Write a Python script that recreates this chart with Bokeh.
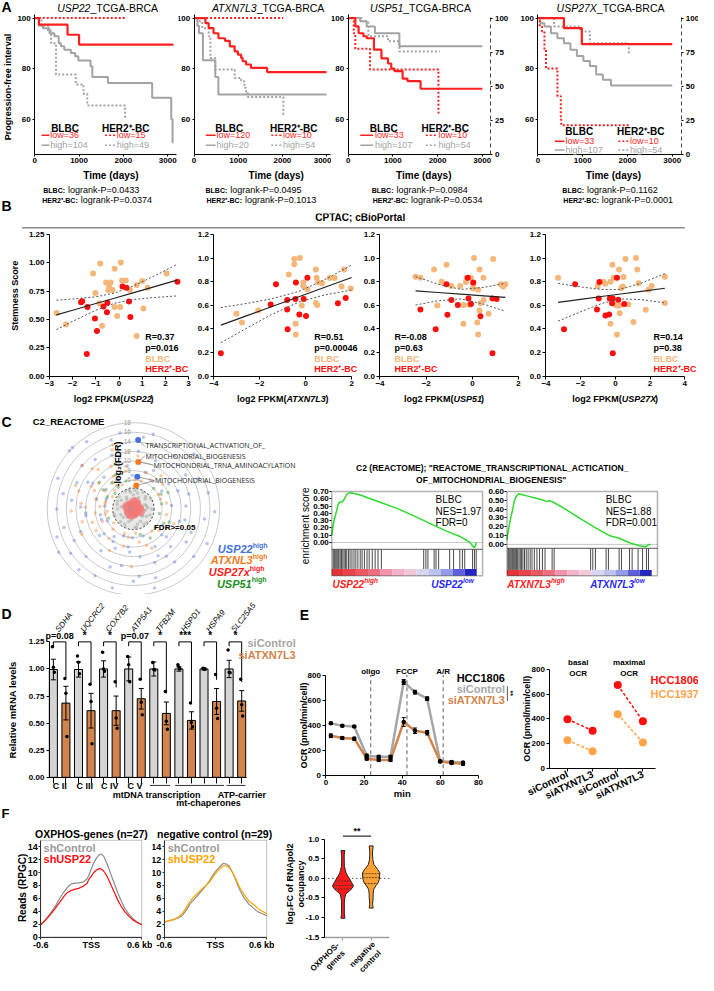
import math
import numpy as np
from bokeh.plotting import figure
from bokeh.models import (Range1d, LinearAxis, Label, Arrow, FixedTicker, BoxAnnotation,
                          NumeralTickFormatter, Whisker, TeeHead, ColumnDataSource)
from bokeh.layouts import row, column
from bokeh.embed import file_html
from bokeh.resources import INLINE
from bokeh.core.properties import value

# ============================ DATA ============================
# ---- A: Kaplan-Meier, TCGA-BRCA (time in days, % progression-free) ----
km_genes = ["USP22", "ATXN7L3", "USP51", "USP27X"]
km_blbc_low_n = [36, 120, 33, 33]
km_blbc_high_n = [104, 20, 107, 107]
km_her2_low_n = [15, 10, 10, 10]
km_her2_high_n = [49, 54, 54, 54]
km_p_blbc = ["0.0433", "0.0495", "0.0984", "0.1162"]
km_p_her2 = ["0.0374", "0.1013", "0.0534", "0.0001"]

usp22_blbc_low_t = [0, 95, 740, 1000, 3130]
usp22_blbc_low_s = [100, 97.4, 93.4, 89.5, 89.5]
usp22_blbc_high_t = [0, 96, 185, 333, 444, 541, 593, 667, 815, 911, 985, 1260, 1300, 1650, 2650, 3080, 3110, 3130]
usp22_blbc_high_s = [100, 97, 96, 94, 92.8, 90, 88.8, 87.5, 86.2, 84.9, 83.2, 80.9, 76.7, 74.3, 68.4, 59.9, 50.7, 50.7]
usp22_her2_low_t = [0, 2050]
usp22_her2_low_s = [100, 100]
usp22_her2_high_t = [0, 150, 300, 370, 480, 925, 1100, 1185, 2040, 2050]
usp22_her2_high_s = [100, 97, 95, 90, 77.6, 73.7, 70, 65.4, 60, 60]

atxn_blbc_low_t = [0, 257, 330, 440, 551, 700, 809, 919, 993, 1066, 1100, 1176, 1287, 1654, 3000]
atxn_blbc_low_s = [100, 98, 96, 94, 92, 91, 88.8, 86.8, 85.5, 84.2, 82.9, 81.6, 80.3, 78.6, 78.6]
atxn_blbc_high_t = [0, 74, 110, 200, 480, 550, 3000]
atxn_blbc_high_s = [100, 97, 94, 83.3, 76.7, 69.7, 69.7]
atxn_her2_low_t = [0, 2020]
atxn_her2_low_s = [100, 100]
atxn_her2_high_t = [0, 110, 184, 330, 368, 478, 919, 1066, 1140, 1176, 1213, 2022, 2030]
atxn_her2_high_s = [100, 98.7, 96, 92.8, 84.2, 79.6, 76.3, 75, 72.4, 70.4, 68.7, 61.8, 61.8]

usp51_blbc_low_t = [0, 161, 234, 343, 416, 577, 745, 891, 964, 1036, 1219, 1328, 1620, 3000]
usp51_blbc_low_s = [100, 96.7, 94, 92.8, 92, 87.5, 84, 82, 80, 79, 76, 75, 72, 72]
usp51_blbc_high_t = [0, 270, 416, 599, 1146, 3000]
usp51_blbc_high_s = [100, 98.7, 96.7, 94, 88.8, 88.8]
usp51_her2_low_t = [0, 125, 160, 490, 2020, 2040]
usp51_her2_low_s = [100, 94, 87.8, 79.6, 62.5, 62.5]
usp51_her2_high_t = [0, 307, 453, 891, 1146, 2050]
usp51_her2_high_s = [100, 98.7, 92.8, 90.8, 86.8, 86.8]

usp27x_blbc_low_t = [0, 580, 980, 3000]
usp27x_blbc_low_s = [100, 96, 89.7, 89.7]
usp27x_blbc_high_t = [0, 50, 145, 290, 435, 580, 725, 870, 1015, 1160, 1300, 1450, 1630, 3000]
usp27x_blbc_high_s = [100, 98, 96.7, 94, 92, 90, 87.5, 85, 83, 81, 77.6, 75.6, 73.3, 73.3]
usp27x_her2_low_t = [0, 40, 90, 145, 180, 435, 510, 520, 2050]
usp27x_her2_low_s = [100, 96.7, 94.7, 87.5, 80, 69, 61, 57.5, 57.5]
usp27x_her2_high_t = [0, 360, 940, 1160, 2030, 2040]
usp27x_her2_high_s = [100, 96.7, 94.7, 90, 86, 86]

# ---- B: CPTAC stemness vs log2 FPKM ----
sc_gene = ["USP22", "ATXN7L3", "USP51", "USP27X"]
sc_R = ["R=0.37", "R=0.51", "R=-0.08", "R=0.14"]
sc_P = ["p=0.016", "p=0.00046", "p=0.63", "p=0.38"]

s1_blbc_x = [-2.69, -2.29, -1.12, -0.81, -1.02, -0.85, -0.73, -0.56, -0.36, -0.43, -0.46, -0.28, -0.19, -0.19, -0.08, 0.08, 0.13, 0.29, 0.05, 0.47, 0.76, 0.76, 1.00, 1.05, 1.24, 2.05]
s1_blbc_y = [0.557, 0.455, 0.904, 0.994, 0.733, 0.643, 0.443, 0.826, 0.826, 0.791, 0.759, 0.759, 0.948, 0.609, 0.530, 1.003, 0.843, 0.843, 0.609, 0.759, 0.803, 0.354, 0.838, 0.597, 0.780, 0.904]
s1_her2_x = [-1.64, -1.59, -1.36, -1.04, -0.95, -0.67, -0.52, -0.50, -1.39, 0.15, 0.32, 0.43, 0.49, 2.52]
s1_her2_y = [0.652, 0.661, 0.609, 0.507, 0.397, 0.614, 0.562, 0.646, 0.194, 0.791, 0.780, 0.658, 0.522, 0.832]
s1_fit_x = [-2.7, -2.0, -1.0, -0.2, 0.6, 1.5, 2.5]
s1_fit_y = [0.540, 0.581, 0.640, 0.687, 0.734, 0.787, 0.846]
s1_ci_hi = [0.670, 0.680, 0.699, 0.732, 0.793, 0.881, 0.985]
s1_ci_lo = [0.410, 0.483, 0.581, 0.642, 0.675, 0.693, 0.707]

s2_blbc_x = [-3.02, -2.78, -2.07, -0.74, -0.50, -0.50, -0.26, -0.11, -0.10, -0.17, -0.44, -0.44, 0.07, 0.44, 0.47, 0.54, 0.71, 0.44, 0.50, 1.04, 1.26, 1.67, 1.56, 1.96]
s2_blbc_y = [0.528, 0.453, 0.556, 0.861, 0.992, 0.947, 1.000, 0.764, 0.792, 0.597, 0.444, 0.353, 0.736, 0.903, 0.833, 0.792, 0.786, 0.619, 0.603, 0.831, 0.831, 0.903, 0.758, 0.742]
s2_her2_x = [-3.70, -1.53, -1.30, -0.81, -0.81, -0.79, -0.43, -0.45, -0.28, -0.09, 0.01, 0.07, 1.40, 1.74]
s2_her2_y = [0.194, 0.606, 0.778, 0.644, 0.564, 0.397, 0.792, 0.653, 0.522, 0.653, 0.508, 0.833, 0.617, 0.661]
s2_fit_x = [-3.7, -2.5, -1.5, -0.3, 0.8, 2.0]
s2_fit_y = [0.431, 0.516, 0.587, 0.672, 0.750, 0.835]
s2_ci_hi = [0.580, 0.618, 0.654, 0.717, 0.814, 0.941]
s2_ci_lo = [0.282, 0.414, 0.520, 0.627, 0.686, 0.729]

s3_blbc_x = [-2.46, -2.25, -1.66, -1.12, -1.52, -1.33, -0.91, -0.53, -0.28, -0.25, -0.07, 0.07, 0.03, 0.03, 0.31, 0.25, 0.35, 0.31, -0.39, -0.14, 0.21, 0.25, 0.48, 0.49, 0.70, 0.90, 1.24, 1.33, 1.43, -0.39]
s3_blbc_y = [0.842, 0.833, 0.903, 0.944, 0.597, 0.800, 0.764, 0.764, 0.797, 0.828, 0.833, 1.000, 0.778, 0.742, 0.903, 0.731, 0.617, 0.556, 0.444, 0.603, 0.453, 0.353, 0.833, 0.644, 0.528, 0.992, 0.778, 0.758, 0.778, 0.603]
s3_her2_x = [-2.25, -1.59, -1.12, -1.08, -0.91, -0.63, -0.20, -0.17, -0.06, 0.04, 0.35, 0.87, 1.05, 0.87]
s3_her2_y = [0.564, 0.397, 0.778, 0.519, 0.644, 0.603, 0.833, 0.658, 0.611, 0.792, 0.506, 0.658, 0.653, 0.194]
s3_fit_x = [-2.46, -1.5, -0.5, 0.5, 1.43]
s3_fit_y = [0.722, 0.708, 0.694, 0.680, 0.667]
s3_ci_hi = [0.842, 0.779, 0.734, 0.751, 0.786]
s3_ci_lo = [0.602, 0.637, 0.654, 0.609, 0.548]

s4_blbc_x = [-3.30, -1.02, -0.70, -0.58, -0.28, -0.17, -0.09, 0.0, 0.11, 0.21, 0.25, 0.34, 0.43, 0.47, 0.58, 0.25, -0.28, 0.09, 0.75, 1.04, 1.19, 1.26, 1.34, 1.91, 2.09, 1.75, 2.85, 2.85]
s4_blbc_y = [0.833, 0.764, 0.800, 0.783, 0.800, 0.944, 0.833, 0.603, 0.597, 0.903, 0.597, 0.744, 0.758, 0.839, 0.992, 0.533, 0.444, 0.353, 0.606, 0.458, 1.000, 0.903, 0.786, 0.731, 0.764, 0.561, 0.842, 0.619]
s4_her2_x = [-2.96, -2.32, -0.92, -0.96, -1.06, -0.57, -0.36, -0.32, -0.15, -0.19, 0.09, 0.17, 0.51, -0.15]
s4_her2_y = [0.397, 0.778, 0.797, 0.658, 0.564, 0.514, 0.522, 0.658, 0.658, 0.617, 0.833, 0.647, 0.611, 0.194]
s4_fit_x = [-3.3, -2.0, -0.8, 0.2, 1.5, 2.85]
s4_fit_y = [0.625, 0.650, 0.674, 0.693, 0.718, 0.744]
s4_ci_hi = [0.785, 0.755, 0.734, 0.733, 0.788, 0.868]
s4_ci_lo = [0.465, 0.545, 0.614, 0.653, 0.648, 0.620]

# ---- C: radial GSEA overview (angle in degrees, radius = -log2 FDR) ----
rad_rings = [6, 8, 10, 12, 14, 16, 18]
rad_ticks = [0, 4, 6, 8, 10, 12, 14, 16, 18]
fdr_cut = 4.32
blue_theta = [100, 112, 125, 133, 140, 150, 158, 165, 172, 180, 188, 195, 203, 210, 218, 225, 232, 240, 248, 255,
              262, 270, 278, 285, 292, 300, 308, 315, 322, 330, 338, 345, 352, 5, 15, 25, 35, 45, 55, 65,
              75, 85, 145, 160, 175, 190, 205, 220, 235, 250, 265, 120, 200, 290, 320,
              98, 108, 118, 128, 138, 148, 168, 178, 198, 208, 228, 238, 258, 268, 288, 298, 318, 328, 348, 358,
              12, 22, 32, 42, 52, 62, 72, 82, 92, 105, 135, 155, 185, 215, 245, 275, 305, 335, 3, 33]
blue_r = [16, 12, 17, 9, 14, 11, 17, 8, 13, 16, 10, 15, 12, 18, 9, 14, 11, 16, 13, 17,
          8, 15, 10, 17, 12, 9, 14, 11, 16, 7, 13, 10, 15, 8, 12, 15, 9, 13, 7, 11,
          16, 12, 7, 6, 6, 7, 6, 8, 7, 6, 9, 7, 17, 6, 9,
          9, 15, 7, 13, 18, 10, 15, 11, 7, 14, 17, 8, 12, 6, 15, 11, 8, 13, 11, 17,
          16, 10, 7, 17, 14, 9, 8, 15, 7, 11, 18, 13, 10, 16, 9, 14, 12, 17, 11, 13]
orange_theta = [95, 102, 110, 118, 125, 132, 140, 148, 155, 162, 170, 178, 186, 194, 202, 210, 225, 240, 255, 268,
                280, 295, 310, 330, 350, 20, 40, 60, 75, 85, 115, 135, 150, 165, 185, 215, 250, 275,
                100, 108, 122, 136, 144, 158, 166, 174, 182, 190, 198, 206, 230, 260, 290, 320, 340, 10, 30, 50,
                70, 88, 128, 152, 176]
orange_r = [12, 8, 13, 10, 6, 11, 14, 7, 9, 12, 6, 10, 8, 11, 7, 9, 6, 10, 8, 12,
            7, 9, 6, 8, 7, 6, 8, 7, 6, 11, 5.5, 5.5, 5, 6, 5.5, 5, 5.5, 5,
            9, 14, 8, 12, 9, 13, 8, 11, 13, 6, 9, 12, 8, 6, 8, 7, 9, 7, 6, 9,
            8, 6, 7, 10, 7]
green_theta = [105, 118, 130, 142, 155, 125, 320, 335, 350, 10, 25, 285, 300, 45, 140, 200, 112, 148, 28, 340]
green_r = [6, 8, 7, 9, 6, 5.5, 6, 7, 5.5, 6, 8, 5.5, 7, 6, 5, 5.5, 10, 7.5, 6.5, 8]
grey_theta = [0, 20, 40, 60, 80, 100, 120, 140, 160, 180, 200, 220, 240, 260, 280, 300, 320, 340, 10, 50,
              90, 130, 170, 210, 250, 290, 330, 30, 75, 115, 155, 195, 235, 275, 315, 355,
              5, 45, 85, 125, 165, 205, 245, 285, 325, 65, 145, 225, 305, 15]
grey_r = [3.8, 2.5, 3.2, 4.0, 2.2, 3.5, 2.8, 3.9, 2.0, 3.3, 4.1, 2.7, 3.6, 2.3, 3.9, 3.0, 2.4, 3.7, 1.8, 1.9,
          2.9, 1.7, 2.6, 1.9, 2.8, 1.6, 3.1, 4.2, 3.4, 4.0, 3.7, 4.2, 2.1, 3.8, 4.0, 2.6,
          3.0, 3.6, 3.9, 2.4, 3.5, 2.9, 4.1, 3.3, 2.2, 2.6, 3.1, 3.8, 3.9, 2.8]
red_theta = [0, 45, 90, 135, 180, 225, 270, 315, 20, 110, 200, 290, 70, 160, 250, 340]
red_r = [1.2, 1.0, 1.3, 0.9, 1.1, 1.2, 1.0, 0.8, 0.5, 0.6, 0.4, 0.7, 1.4, 1.4, 1.3, 1.5]
hl_theta = [86, 84, 83, 83]
hl_r = [14.3, 9.8, 6.7, 4.9]
hl_set = ["USP22", "ATXNL3", "USP22", "ATXNL3"]
gs_names = ["TRANSCRIPTIONAL_ACTIVATION_OF_", "MITOCHONDRIAL_BIOGENESIS",
            "MITOCHONDRIAL_TRNA_AMINOACYLATION", "MITOCHONDRIAL_BIOGENESIS"]
rad_legend = ["USP22", "ATXNL3", "USP27x", "USP51"]

# ---- C: GSEA running enrichment ----
g1_x = [0.0, 0.004, 0.016, 0.031, 0.045, 0.054, 0.072, 0.088, 0.106, 0.128, 0.162, 0.207, 0.252, 0.342,
        0.454, 0.566, 0.679, 0.791, 0.881, 0.948, 0.982, 0.993, 0.998]
g1_es = [0.10, 0.168, 0.305, 0.418, 0.532, 0.555, 0.555, 0.600, 0.668, 0.682, 0.668, 0.645, 0.609, 0.545,
         0.464, 0.364, 0.259, 0.155, 0.086, 0.009, -0.073, -0.036, 0.0]
g1_hits = [0.009, 0.016, 0.022, 0.029, 0.036, 0.043, 0.049, 0.058, 0.067, 0.076, 0.085, 0.094, 0.103, 0.115,
           0.126, 0.139, 0.153, 0.166, 0.180, 0.196, 0.209, 0.225, 0.243, 0.258, 0.279, 0.299, 0.319, 0.342,
           0.634, 0.649, 0.663, 0.706, 0.719, 0.737, 0.813, 0.840, 0.883, 0.901, 0.917, 0.971, 0.984, 0.996]
g2_x = [0.0, 0.004, 0.016, 0.027, 0.038, 0.049, 0.061, 0.079, 0.106, 0.151, 0.196, 0.240, 0.274, 0.297,
        0.330, 0.398, 0.488, 0.600, 0.712, 0.780, 0.847, 0.915, 0.960, 0.982, 0.993]
g2_es = [0.05, 0.105, 0.217, 0.311, 0.386, 0.480, 0.536, 0.574, 0.562, 0.544, 0.525, 0.506, 0.487, 0.495,
         0.469, 0.405, 0.311, 0.199, 0.097, 0.067, 0.019, -0.015, -0.026, 0.0, -0.007]
g2_hits = [0.007, 0.013, 0.020, 0.027, 0.034, 0.040, 0.047, 0.054, 0.061, 0.067, 0.074, 0.083, 0.092, 0.101,
           0.110, 0.121, 0.133, 0.146, 0.160, 0.173, 0.189, 0.207, 0.225, 0.245, 0.263, 0.312, 0.326, 0.578,
           0.593, 0.611, 0.685, 0.701, 0.775, 0.791, 0.847, 0.865, 0.906, 0.937, 0.964, 0.978]
gsea_rank_colors = ["#E5333A", "#E8434A", "#EB5860", "#EE7080", "#F294AA", "#F4B3C8",
                    "#F1C7DA", "#D9D4EF", "#BDC3EE", "#959BE8", "#5D60DC", "#2424C2"]
gsea_stats = [["BLBC", "NES=1.97", "FDR=0"], ["BLBC", "NES=1.88", "FDR=0.001"]]

# ---- D: qPCR ----
d_genes = ["SDHA", "UQCRC2", "COX7B2", "ATP5A1", "TFB2M", "HSPD1", "HSPA9", "SLC25A5"]
d_ctrl_mean = [0.995, 0.995, 1.0, 1.0, 1.0, 1.0, 1.0, 1.0]
d_ctrl_sem = [0.095, 0.07, 0.075, 0.11, 0.065, 0.02, 0.01, 0.08]
d_si_mean = [0.685, 0.615, 0.615, 0.725, 0.59, 0.525, 0.70, 0.705]
d_si_sem = [0.155, 0.16, 0.135, 0.095, 0.105, 0.08, 0.12, 0.095]
d_ctrl_reps = [[1.205, 1.017, 0.970], [1.120, 1.063, 0.955], [1.154, 1.000, 0.979], [1.114, 1.039, 0.883],
               [1.060, 0.994, 0.991], [1.039, 1.018, 1.003], [1.006, 1.000, 0.997], [1.175, 0.970, 0.964]]
d_si_reps = [[0.913, 0.777, 0.377], [0.858, 0.699, 0.310], [0.883, 0.548, 0.452], [0.904, 0.693, 0.578],
             [0.792, 0.518, 0.443], [0.687, 0.506, 0.467], [0.949, 0.638, 0.542], [0.904, 0.669, 0.566]]
d_sig = ["p=0.08", "*", "*", "p=0.07", "*", "***", "*", "*"]
d_groups = ["C II", "C III", "C IV", "C V"]

# ---- E: Seahorse OCR ----
e_time = [2.6, 8.6, 14.9, 21.4, 27.7, 33.9, 40.8, 46.7, 53.1, 59.9, 65.9, 71.9]
e_ctrl = [416, 395, 390, 157, 149, 149, 745, 664, 612, 112, 107, 102]
e_ctrl_err = [8, 8, 8, 12, 10, 10, 20, 15, 15, 8, 8, 8]
e_si = [316, 298, 293, 133, 123, 123, 426, 356, 340, 110, 99, 92]
e_si_err = [15, 12, 12, 10, 12, 10, 35, 22, 18, 8, 10, 12]
e_inj_t = [23.5, 42.5, 61.5]
e_inj = ["oligo", "FCCP", "A/R"]
er_cond = ["siControl", "siATXN7L3", "siControl", "siATXN7L3"]
er_hcc1806 = [397, 305, 673, 381]
er_hcc1937 = [228, 138, 437, 209]

# ---- F: RNApol2 ChIP profiles and violins ----
f1_x = [-0.6, -0.55, -0.49, -0.43, -0.38, -0.33, -0.3, -0.27, -0.24, -0.2, -0.15, -0.09, -0.05, -0.03, 0.0,
        0.03, 0.06, 0.09, 0.12, 0.15, 0.18, 0.21, 0.24, 0.28, 0.32, 0.36, 0.4, 0.45, 0.5, 0.55, 0.6]
f1_ctrl = [1.9, 2.6, 3.6, 4.7, 5.9, 6.9, 7.4, 7.9, 8.2, 8.35, 8.4, 8.56, 9.0, 9.5, 10.5,
           11.5, 12.2, 12.7, 12.85, 12.5, 11.6, 10.6, 9.5, 8.1, 6.7, 5.5, 4.4, 3.5, 2.8, 2.3, 1.9]
f1_sh = [1.9, 2.5, 3.4, 4.4, 5.3, 6.2, 6.7, 7.0, 7.2, 7.4, 7.55, 7.9, 8.3, 8.9, 9.4,
         10.0, 10.35, 10.6, 10.55, 10.2, 9.6, 8.8, 7.9, 6.8, 5.6, 4.7, 3.9, 3.2, 2.6, 2.2, 1.9]
f2_x = [-0.6, -0.55, -0.49, -0.43, -0.39, -0.34, -0.30, -0.24, -0.18, -0.12, -0.07, -0.03, 0.01, 0.05,
        0.09, 0.12, 0.16, 0.20, 0.24, 0.28, 0.33, 0.39, 0.45, 0.50, 0.55, 0.6]
f2_ctrl = [2.3, 2.5, 2.7, 3.0, 3.3, 4.2, 5.1, 6.0, 6.9, 7.8, 8.7, 9.6, 10.3, 10.9,
           11.4, 11.35, 11.0, 10.0, 8.8, 7.4, 6.2, 5.1, 4.4, 3.9, 3.6, 3.3]
f2_sh = [2.3, 2.5, 2.7, 3.1, 3.6, 4.6, 5.5, 6.4, 7.2, 7.9, 8.5, 9.3, 10.0, 10.6,
         11.0, 11.05, 10.8, 10.0, 9.0, 7.8, 6.7, 5.6, 5.0, 4.4, 4.0, 3.6]
ox_vy = [0.71, 0.6, 0.5, 0.4, 0.31, 0.2, 0.14, 0.06, -0.03, -0.11, -0.19, -0.25, -0.32, -0.40, -0.49, -0.6, -0.78, -0.9, -1.02]
ox_vw = [0.07, 0.045, 0.045, 0.05, 0.05, 0.09, 0.11, 0.17, 0.25, 0.31, 0.37, 0.33, 0.23, 0.10, 0.07, 0.05, 0.05, 0.05, 0.07]
nc_vy = [0.83, 0.65, 0.48, 0.35, 0.23, 0.14, 0.06, -0.03, -0.11, -0.19, -0.28, -0.4, -0.49, -0.66, -0.76]
nc_vw = [0.07, 0.045, 0.06, 0.10, 0.23, 0.31, 0.30, 0.29, 0.25, 0.17, 0.09, 0.07, 0.07, 0.05, 0.07]
ox_q = [-0.07, -0.18, -0.27]
nc_q = [0.12, 0.02, -0.13]

# ============================ STYLE / LAYOUT ============================
FONT = "Liberation Sans"
RED = "#FF1F1F"
KM_GREY = "#A3A3A3"
TAN = "#F5B779"
HRED = "#FF0D0D"
BLUE = "#4472DD"
ORANGE = "#F47B20"
GREEN = "#1E8E1E"
SI_OR = "#D2844C"
SI_GREY = "#A6A6A6"
HCC37 = "#FFA547"

SX = 698.0 / 714.0
SY = 975.0 / 991.0


def X(v):
    return int(round(v * SX))


def Y(v):
    return int(round(v * SY))


BOXES = {}


def mkfig(box, drect=None, xd=(0.0, 1.0), yd=(0.0, 1.0), axes=True):
    """Figure whose canvas is `box` (reference px); the data window xd x yd maps onto `drect`."""
    x0, y0, x1, y1 = box
    if drect is None:
        drect = box
    fx0, fy0, fx1, fy1 = drect
    xa, xb = xd
    ya, yb = yd
    kx = (xb - xa) / float(fx1 - fx0)
    ky = (yb - ya) / float(fy1 - fy0)
    xr = Range1d(xa - (fx0 - x0) * kx, xb + (x1 - fx1) * kx)
    yr = Range1d(ya - (y1 - fy1) * ky, yb + (fy0 - y0) * ky)
    extra = {} if axes else dict(x_axis_type=None, y_axis_type=None)
    p = figure(width=X(x1) - X(x0), height=Y(y1) - Y(y0), x_range=xr, y_range=yr,
               output_backend="svg", toolbar_location=None,
               min_border_left=0, min_border_right=0, min_border_top=0, min_border_bottom=0, **extra)
    p.outline_line_color = None
    p.background_fill_color = "white"
    p.border_fill_color = "white"
    for g in p.grid:
        g.visible = False
    if axes:
        p.xaxis.fixed_location = ya
        p.yaxis.fixed_location = xa
        p.xaxis.bounds = (xa, xb)
        p.yaxis.bounds = (ya, yb)
    BOXES[p.id] = box
    return p


def _style(bold, italic):
    if bold and italic:
        return "bold italic"
    if bold:
        return "bold"
    if italic:
        return "italic"
    return "normal"


def lab(p, text, rx, ry, size=9, color="black", bold=False, italic=False,
        align="left", baseline="middle", angle=0.0, font=FONT):
    x0, y0, x1, y1 = BOXES[p.id]
    p.add_layout(Label(x=rx * SX - X(x0), y=Y(y1) - ry * SY, x_units="screen", y_units="screen",
                       text=text, text_font=font, text_font_size=f"{size}px",
                       text_font_style=_style(bold, italic), text_color=color,
                       text_align=align, text_baseline=baseline, angle=angle))


def labd(p, text, x, y, size=9, color="black", bold=False, italic=False,
         align="center", baseline="middle", angle=0.0, font=FONT):
    p.add_layout(Label(x=x, y=y, text=text, text_font=font, text_font_size=f"{size}px",
                       text_font_style=_style(bold, italic), text_color=color,
                       text_align=align, text_baseline=baseline, angle=angle))


def seg(p, rx0, ry0, rx1, ry1, color="black", width=1.0, dash="solid"):
    x0, y0, x1, y1 = BOXES[p.id]
    p.add_layout(Arrow(x_start=rx0 * SX - X(x0), y_start=Y(y1) - ry0 * SY,
                       x_end=rx1 * SX - X(x0), y_end=Y(y1) - ry1 * SY,
                       start_units="screen", end_units="screen", start=None, end=None,
                       line_color=color, line_width=width, line_dash=dash))


def style_axes(p, size=8, bold=True, tick_out=3, standoff=1, line_color="black", label_color="black"):
    for ax in p.axis:
        ax.major_label_text_font = FONT
        ax.major_label_text_font_size = f"{size}px"
        ax.major_label_text_font_style = "bold" if bold else "normal"
        ax.major_label_text_color = label_color
        ax.axis_line_color = line_color
        ax.axis_line_width = 1
        ax.major_tick_line_color = line_color
        ax.minor_tick_line_color = None
        ax.major_tick_out = tick_out
        ax.major_tick_in = 0
        ax.major_label_standoff = standoff


# ============================ A: Kaplan-Meier ============================
km_curves = [
    (usp22_blbc_low_t, usp22_blbc_low_s, usp22_blbc_high_t, usp22_blbc_high_s,
     usp22_her2_low_t, usp22_her2_low_s, usp22_her2_high_t, usp22_her2_high_s),
    (atxn_blbc_low_t, atxn_blbc_low_s, atxn_blbc_high_t, atxn_blbc_high_s,
     atxn_her2_low_t, atxn_her2_low_s, atxn_her2_high_t, atxn_her2_high_s),
    (usp51_blbc_low_t, usp51_blbc_low_s, usp51_blbc_high_t, usp51_blbc_high_s,
     usp51_her2_low_t, usp51_her2_low_s, usp51_her2_high_t, usp51_her2_high_s),
    (usp27x_blbc_low_t, usp27x_blbc_low_s, usp27x_blbc_high_t, usp27x_blbc_high_s,
     usp27x_her2_low_t, usp27x_her2_low_s, usp27x_her2_high_t, usp27x_her2_high_s),
]
KM_BOX_X = [(0, 182), (182, 339), (339, 524), (524, 714)]
KM_FRAME_X = [(35, 180), (198, 338), (356, 502), (550, 697)]
KM_XMAX = [3200, 3090, 3195, 3215]
KM_TITLE_J = [92, 262, 412, 610]
KM_TIME_X = [113, 282, 433, 627]
KM_LR = [(66, 79), (232, 247), (402, 417), (597, 612)]
KM_LEG = [
    (66, 42, 50, 51, 128, 107, 118, 119, 130, 137, 147),
    (234, 210, 220, 221, 300, 277, 288, 289, 130, 137, 147),
    (392, 368, 381, 383, 455, 435, 447, 448, 130, 137, 147),
    (592, 567, 577, 578, 655, 632, 643, 644, 133, 143, 152),
]
KM_TOP, KM_BOT, KM_H = 14, 156, 216

km_figs = []
for i in range(4):
    bx0, bx1 = KM_BOX_X[i]
    fx0, fx1 = KM_FRAME_X[i]
    p = mkfig((bx0, 0, bx1, KM_H), (fx0, KM_TOP, fx1, KM_BOT), (0, KM_XMAX[i]), (46, 101.5))
    blt, bls, bht, bhs, hlt, hls, hht, hhs = km_curves[i]
    p.step(hht, hhs, mode="after", line_color=KM_GREY, line_width=2, line_dash="2 2")
    p.step(bht, bhs, mode="after", line_color=KM_GREY, line_width=2)
    p.step(hlt, hls, mode="after", line_color=RED, line_width=2, line_dash="2 2")
    p.step(blt, bls, mode="after", line_color=RED, line_width=2.2)
    p.yaxis.ticker = FixedTicker(ticks=[60, 80, 100])
    p.xaxis.ticker = FixedTicker(ticks=[0, 1000, 2000, 3000])
    rax = None
    if i >= 2:
        kr = 102.9 / float(KM_BOT - KM_TOP)
        p.extra_y_ranges = {"r": Range1d(-(KM_H - KM_BOT) * kr, 102.9 + KM_TOP * kr)}
        rax = LinearAxis(y_range_name="r", ticker=FixedTicker(ticks=[0, 25, 50, 75, 100]),
                         fixed_location=KM_XMAX[i], bounds=(0, 102.9))
        p.add_layout(rax, "right")
    style_axes(p, size=8, tick_out=2, standoff=2)
    if rax is not None:
        rax.axis_line_dash = "4 3"
        rax.axis_line_color = "#444444"
    j = KM_TITLE_J[i]
    lab(p, km_genes[i], j, 8, size=10.5, italic=True, align="right")
    lab(p, "_TCGA-BRCA", j, 8, size=10.5, align="left")
    bcx, l0, l1, tx, hcx, hl0, hl1, htx, yt, yl, yh = KM_LEG[i]
    lab(p, "BLBC", bcx, yt, size=10, bold=True, align="center")
    lab(p, "HER2\u207a-BC", hcx, yt, size=10, bold=True, align="center")
    seg(p, l0, yl, l1, yl, RED, 1.5)
    lab(p, f"low={km_blbc_low_n[i]}", tx, yl, size=9, color=RED)
    seg(p, l0, yh, l1, yh, KM_GREY, 1.5)
    lab(p, f"high={km_blbc_high_n[i]}", tx, yh, size=9, color=KM_GREY)
    seg(p, hl0, yl, hl1, yl, RED, 1.5, "2 2")
    lab(p, f"low={km_her2_low_n[i]}", htx, yl, size=9, color=RED)
    seg(p, hl0, yh, hl1, yh, KM_GREY, 1.5, "2 2")
    lab(p, f"high={km_her2_high_n[i]}", htx, yh, size=9, color=KM_GREY)
    lab(p, "Time (days)", KM_TIME_X[i], 178, size=10, bold=True, align="center")
    j1, j2 = KM_LR[i]
    lab(p, "BLBC:", j1, 193, size=7, bold=True, align="right")
    lab(p, "logrank-P=" + km_p_blbc[i], j1 + 3, 193, size=9)
    lab(p, "HER2\u207a-BC:", j2, 203, size=7, bold=True, align="right")
    lab(p, "logrank-P=" + km_p_her2[i], j2 + 3, 203, size=9)
    if i == 0:
        lab(p, "A", 1, 7, size=14, bold=True)
        lab(p, "Progression-free interval", 8, 88, size=9, bold=True, align="center", angle=math.pi / 2)
        lab(p, "B", 1, 209, size=14, bold=True)
    km_figs.append(p)

# header of B
hb = mkfig((0, 216, 714, 233), axes=False)
lab(hb, "CPTAC; cBioPortal", 368, 221, size=10, bold=True, align="center")
seg(hb, 22, 231, 700, 231, "#8C8C8C", 1.3)

# ============================ B: scatter ============================
sc_sets = [
    (s1_blbc_x, s1_blbc_y, s1_her2_x, s1_her2_y, s1_fit_x, s1_fit_y, s1_ci_hi, s1_ci_lo),
    (s2_blbc_x, s2_blbc_y, s2_her2_x, s2_her2_y, s2_fit_x, s2_fit_y, s2_ci_hi, s2_ci_lo),
    (s3_blbc_x, s3_blbc_y, s3_her2_x, s3_her2_y, s3_fit_x, s3_fit_y, s3_ci_hi, s3_ci_lo),
    (s4_blbc_x, s4_blbc_y, s4_her2_x, s4_her2_y, s4_fit_x, s4_fit_y, s4_ci_hi, s4_ci_lo),
]
SC_BOX_X = [(0, 195), (195, 367), (367, 533), (533, 714)]
SC_FRAME_X = [(50, 192), (218, 359), (388, 530), (558, 700)]
SC_XR = [(-3, 3), (-4, 2), (-4, 2), (-4, 4)]
SC_XT = [[-3, -2, -1, 0, 1, 2, 3], [-4, -2, 0, 2], [-4, -2, 0, 2], [-4, -2, 0, 2, 4]]
SC_TXT_X = [148, 321, 403, 668]
SC_XLAB_C = [117, 290, 455, 630]
GENE_W = [28, 40, 28, 34]

sc_figs = []
for i in range(4):
    bx0, bx1 = SC_BOX_X[i]
    fx0, fx1 = SC_FRAME_X[i]
    ymax = 1.25 if i == 0 else 1.2
    p = mkfig((bx0, 233, bx1, 415), (fx0, 238, fx1, 382), SC_XR[i], (0, ymax))
    bx, by, hx, hy, fx, fy, ch, cl = sc_sets[i]
    p.scatter(bx, by, size=6, fill_color=TAN, line_color=None)
    p.scatter(hx, hy, size=6, fill_color=HRED, line_color=None)
    p.line(fx, ch, line_color="#555555", line_width=1, line_dash="2 2")
    p.line(fx, cl, line_color="#555555", line_width=1, line_dash="2 2")
    p.line(fx, fy, line_color="#222222", line_width=1.2)
    p.xaxis.ticker = FixedTicker(ticks=SC_XT[i])
    if i == 0:
        p.yaxis.ticker = FixedTicker(ticks=[0, 0.25, 0.5, 0.75, 1.0, 1.25])
        p.yaxis.formatter = NumeralTickFormatter(format="0.00")
    else:
        p.yaxis.ticker = FixedTicker(ticks=[0, 0.2, 0.4, 0.6, 0.8, 1.0, 1.2])
        p.yaxis.formatter = NumeralTickFormatter(format="0.0")
    style_axes(p, size=8, tick_out=3, standoff=2)
    tx = SC_TXT_X[i]
    lab(p, sc_R[i], tx, 342, size=9, bold=True)
    lab(p, sc_P[i], tx, 353, size=9, bold=True)
    lab(p, "BLBC", tx, 364, size=9, bold=True, color=TAN)
    lab(p, "HER2\u207a-BC", tx, 375, size=9, bold=True, color=HRED)
    total = 48 + GENE_W[i] + 3
    jx = SC_XLAB_C[i] - total / 2.0 + 48
    lab(p, "log2 FPKM(", jx, 405, size=9, bold=True, align="right")
    lab(p, sc_gene[i], jx, 405, size=9, bold=True, italic=True, align="left")
    lab(p, ")", jx + GENE_W[i], 405, size=9, bold=True, align="left")
    if i == 0:
        lab(p, "Stemness Score", 15, 300, size=9, bold=True, align="center", angle=math.pi / 2)
    sc_figs.append(p)

# ============================ C: radial overview ============================
PXU = 4.9
CX, CY = 136.0, 517.0
RC_BOX = (0, 415, 305, 604)
rc = mkfig(RC_BOX, RC_BOX, (-CX / PXU, (305 - CX) / PXU), (-(604 - CY) / PXU, (CY - 415) / PXU), axes=False)


def polar(theta, r):
    t = np.deg2rad(np.asarray(theta, dtype=float))
    rr = np.asarray(r, dtype=float)
    return rr * np.cos(t), rr * np.sin(t)


rc.circle(x=[0] * len(rad_rings), y=[0] * len(rad_rings), radius=rad_rings,
          fill_color=None, line_color="#C4C4C4", line_width=0.9)
rc.circle(x=[0], y=[0], radius=[fdr_cut], fill_color="#D6D6D6", fill_alpha=0.55,
          line_color="#333333", line_width=1, line_dash="2 2")
gx, gy = polar(grey_theta, grey_r)
rc.scatter(gx, gy, size=3.5, fill_color="#9DA895", line_color=None, alpha=0.5)
bxp, byp = polar(blue_theta, blue_r)
rc.scatter(bxp, byp, size=3.5, fill_color=BLUE, line_color=None, alpha=0.4)
oxp, oyp = polar(orange_theta, orange_r)
rc.scatter(oxp, oyp, size=3.5, fill_color=ORANGE, line_color=None, alpha=0.4)
gxp, gyp = polar(green_theta, green_r)
rc.scatter(gxp, gyp, size=3.5, fill_color=GREEN, line_color=None, alpha=0.4)
rxp, ryp = polar(red_theta, red_r)
rc.scatter(rxp, ryp, size=10, fill_color="#F27878", line_color=None, alpha=0.7)
rc.text(x=[-0.5] * len(rad_ticks), y=rad_ticks, text=[str(t) for t in rad_ticks],
        text_align="right", text_baseline="middle", text_font=value(FONT),
        text_font_size=value("6.5px"), text_color="#9A9A9A")
hx_, hy_ = polar(hl_theta, hl_r)
lead_from = [0, 1, 1, 2, 3]
lead_to_x = [2.38, 2.38, 4.08, 4.42, 4.42]
lead_to_y = [13.0, 10.96, 9.12, 5.85, 5.85]
rc.segment(x0=[hx_[k] for k in lead_from], y0=[hy_[k] for k in lead_from], x1=lead_to_x, y1=lead_to_y,
           line_color="#888888", line_width=0.8)
rc.scatter(hx_, hy_, size=6, fill_color=[BLUE if s == "USP22" else ORANGE for s in hl_set], line_color=None)
rc.text(x=[2.55, 2.55, 4.2, 4.5], y=[13.06, 10.82, 8.98, 5.92], text=gs_names,
        text_align="left", text_baseline="middle", text_font=value("Open Sans"),
        text_font_size=value("7px"), text_color="#1A1A1A")
lab(rc, "C", 1, 428, size=14, bold=True)
lab(rc, "C2_REACTOME", 33, 428, size=9.5, bold=True)
lab(rc, "-log\u2082(FDR)", 120, 471, size=9, bold=True, align="center", angle=math.pi / 2)
lab(rc, "FDR>=0.05", 157, 536, size=8, bold=True)
leg_cols = [BLUE, ORANGE, "#FF1A1A", GREEN]
leg_y = [558, 569, 581, 593]
leg_j = [258, 258, 255, 257]
for k in range(4):
    lab(rc, rad_legend[k], leg_j[k], leg_y[k], size=11, bold=True, italic=True, color=leg_cols[k], align="right")
    lab(rc, "high", leg_j[k], leg_y[k] - 4, size=7, bold=True, color=leg_cols[k], align="left")

# ============================ C: GSEA plots ============================
gh = mkfig((305, 415, 714, 495), axes=False)
lab(gh, 'C2 (REACTOME); "REACTOME_TRANSCRIPTIONAL_ACTICATION_', 503, 475, size=8.5, bold=True, align="center")
lab(gh, 'OF_MITOCHONDRIAL_BIOGENESIS"', 502, 487, size=8.5, bold=True, align="center")

GS = [
    dict(box=(305, 495, 496, 604), frame=(339, 499, 493, 585), yr=(-0.458, 0.70), sep=-0.094, hb=-0.363,
         ticks=[0, 0.1, 0.2, 0.3, 0.4, 0.5, 0.6, 0.7], x=g1_x, es=g1_es, hits=g1_hits, tx=445,
         gene="USP22", hi=372, lo=473),
    dict(box=(496, 495, 714, 604), frame=(518, 499, 672, 585), yr=(-0.356, 0.60), sep=-0.044, hb=-0.289,
         ticks=[0, 0.1, 0.2, 0.3, 0.4, 0.5, 0.6], x=g2_x, es=g2_es, hits=g2_hits, tx=619,
         gene="ATXN7L3", hi=563, lo=648),
]
gsea_figs = []
for k, g in enumerate(GS):
    y_lo, y_hi = g["yr"]
    p = mkfig(g["box"], g["frame"], (0, 1.04), g["yr"])
    p.xaxis.visible = False
    p.yaxis.ticker = FixedTicker(ticks=g["ticks"])
    p.yaxis.formatter = NumeralTickFormatter(format="0.00")
    p.yaxis.bounds = (0, g["ticks"][-1])
    style_axes(p, size=8, tick_out=2, standoff=1)
    p.yaxis.axis_line_color = None
    nb = len(gsea_rank_colors)
    p.quad(left=[c / nb for c in range(nb)], right=[(c + 1) / nb for c in range(nb)],
           bottom=[y_lo] * nb, top=[g["hb"]] * nb, fill_color=gsea_rank_colors, line_color=None)
    hits = g["hits"]
    p.segment(x0=hits, y0=[g["sep"]] * len(hits), x1=hits, y1=[g["hb"]] * len(hits),
              line_color="#2A2A2A", line_width=1, line_alpha=0.85)
    p.segment(x0=[0, 0], y0=[0, g["sep"]], x1=[1.04, 1.04], y1=[0, g["sep"]],
              line_color=["#C8C8C8", "#555555"], line_width=1)
    p.line(g["x"], g["es"], line_color="#2EDB2E", line_width=1.5)
    p.add_layout(BoxAnnotation(left=0, right=1.04, bottom=y_lo, top=y_hi, fill_alpha=0,
                               line_color="black", line_width=1.5))
    for r_, txt in enumerate(gsea_stats[k]):
        lab(p, txt, g["tx"], 507 + 12 * r_, size=10)
    lab(p, g["gene"], g["hi"], 594, size=10, bold=True, italic=True, color="#FF2020", align="right")
    lab(p, "high", g["hi"], 590, size=6.5, bold=True, italic=True, color="#FF2020", align="left")
    lab(p, g["gene"], g["lo"], 594, size=10, bold=True, italic=True, color="#2A2AF0", align="right")
    lab(p, "low", g["lo"], 590, size=6.5, bold=True, italic=True, color="#2A2AF0", align="left")
    if k == 0:
        lab(p, "enrichment score", 312, 534, size=10, align="center", angle=math.pi / 2)
    gsea_figs.append(p)

# ============================ D: qPCR bars ============================
d = mkfig((0, 604, 304, 838), (50, 650, 252, 790), (-0.41, 7.45), (0, 1.27))
xc = [i - 0.25 for i in range(8)]
xs_ = [i + 0.25 for i in range(8)]
d.vbar(x=xc, top=d_ctrl_mean, width=0.32, fill_color="#D4D4D4", line_color="black", line_width=1)
d.vbar(x=xs_, top=d_si_mean, width=0.32, fill_color=SI_OR, line_color="black", line_width=1)
wsrc = ColumnDataSource(dict(
    x=xc + xs_,
    up=[m + s for m, s in zip(d_ctrl_mean, d_ctrl_sem)] + [m + s for m, s in zip(d_si_mean, d_si_sem)],
    lo=[m - s for m, s in zip(d_ctrl_mean, d_ctrl_sem)] + [m - s for m, s in zip(d_si_mean, d_si_sem)]))
d.add_layout(Whisker(source=wsrc, base="x", upper="up", lower="lo", line_color="black", line_width=1,
                     upper_head=TeeHead(size=5, line_color="black", line_width=1),
                     lower_head=TeeHead(size=5, line_color="black", line_width=1), level="annotation"))
offs = [-0.04, 0.0, 0.04]
dot_x, dot_y = [], []
for i in range(8):
    for k in range(3):
        dot_x.append(xc[i] + offs[k])
        dot_y.append(d_ctrl_reps[i][k])
        dot_x.append(xs_[i] + offs[k])
        dot_y.append(d_si_reps[i][k])
d.scatter(dot_x, dot_y, size=3.5, fill_color="black", line_color=None)
d.multi_line(xs=[[xc[i], xc[i], xs_[i], xs_[i]] for i in range(8)],
             ys=[[1.21, 1.25, 1.25, d_si_mean[i] + d_si_sem[i] + 0.08] for i in range(8)],
             line_color="black", line_width=1)
d.yaxis.ticker = FixedTicker(ticks=[0, 0.25, 0.5, 0.75, 1.0, 1.25])
d.yaxis.formatter = NumeralTickFormatter(format="0.00")
d.yaxis.bounds = (0, 1.25)
d.xaxis.ticker = FixedTicker(ticks=sorted(xc + xs_))
style_axes(d, size=8, tick_out=3, standoff=2)
d.xaxis.major_tick_out = 6
d.xaxis.major_label_text_color = None
for i in range(8):
    labd(d, d_sig[i], i, 1.305, size=9 if d_sig[i].startswith("p") else 10, bold=True)
    labd(d, d_genes[i], i - 0.1, 1.35, size=8, italic=True, align="left", angle=math.radians(52))
for i in range(4):
    labd(d, d_groups[i], i, -0.08, size=9, bold=True)
labd(d, "mtDNA transcription", 3.87, -0.163, size=9, bold=True)
labd(d, "mt-chaperones", 5.93, -0.235, size=9, bold=True)
labd(d, "ATP-carrier", 7.26, -0.163, size=9, bold=True)
d.segment(x0=[3.6, 4.6, 6.65], y0=[-0.075] * 3, x1=[4.4, 6.55, 7.4], y1=[-0.075] * 3,
          line_color="black", line_width=0.8)
lab(d, "siControl", 302, 653, size=11, bold=True, color=SI_GREY, align="right")
lab(d, "siATXN7L3", 302, 665, size=11, bold=True, color=SI_OR, align="right")
lab(d, "Relative mRNA levels", 12, 721, size=9.5, bold=True, align="center", angle=math.pi / 2)
lab(d, "D", 1, 624, size=14, bold=True)
lab(d, "F", 1, 826, size=13, bold=True)

# ============================ E: OCR time course ============================
el = mkfig((304, 604, 534, 838), (333, 686, 489, 788), (0, 80), (0, 800))
el.segment(x0=e_inj_t, y0=[0] * 3, x1=e_inj_t, y1=[800] * 3, line_color="#7A7A7A",
           line_width=1.2, line_dash="4 3")
el.line(e_time, e_ctrl, line_color=SI_GREY, line_width=2.5)
el.line(e_time, e_si, line_color=SI_OR, line_width=2.5)
esrc = ColumnDataSource(dict(
    x=e_time + e_time,
    up=[v + e for v, e in zip(e_ctrl, e_ctrl_err)] + [v + e for v, e in zip(e_si, e_si_err)],
    lo=[v - e for v, e in zip(e_ctrl, e_ctrl_err)] + [v - e for v, e in zip(e_si, e_si_err)]))
el.add_layout(Whisker(source=esrc, base="x", upper="up", lower="lo", line_color="black", line_width=1,
                      upper_head=TeeHead(size=4, line_color="black", line_width=1),
                      lower_head=TeeHead(size=4, line_color="black", line_width=1), level="annotation"))
el.scatter(e_time + e_time, e_ctrl + e_si, size=4.5, fill_color="black", line_color=None)
el.xaxis.ticker = FixedTicker(ticks=[0, 20, 40, 60, 80])
el.yaxis.ticker = FixedTicker(ticks=[0, 200, 400, 600, 800])
style_axes(el, size=8, tick_out=3, standoff=2)
for t, name in zip(e_inj_t, e_inj):
    labd(el, name, t, 831, size=8, bold=True)
lab(el, "min", 411, 806, size=9.5, bold=True, align="center")
lab(el, "OCR (pmol/min/cell)", 310, 737, size=9, bold=True, align="center", angle=math.pi / 2)
lab(el, "E", 306, 625, size=14, bold=True)
lab(el, "HCC1806", 516, 689, size=11, bold=True, align="right")
lab(el, "siControl", 516, 700, size=11, bold=True, color=SI_GREY, align="right")
lab(el, "siATXN7L3", 516, 711, size=11, bold=True, color=SI_OR, align="right")
seg(el, 518.5, 697, 518.5, 712, "#555555", 1)
lab(el, "**", 522, 704, size=7, bold=True, align="center", angle=-math.pi / 2)

er = mkfig((534, 604, 714, 838), (562, 680, 670, 781), (-0.7, 3.5), (0, 800))
er.multi_line(xs=[[0, 1], [2, 3]], ys=[er_hcc1806[0:2], er_hcc1806[2:4]],
              line_color=HRED, line_width=1.5, line_dash="3 2")
er.multi_line(xs=[[0, 1], [2, 3]], ys=[er_hcc1937[0:2], er_hcc1937[2:4]],
              line_color=HCC37, line_width=1.5, line_dash="3 2")
er.scatter([0, 1, 2, 3], er_hcc1806, size=8, fill_color=HRED, line_color=None)
er.scatter([0, 1, 2, 3], er_hcc1937, size=8, fill_color=HCC37, line_color=None)
er.xaxis.ticker = FixedTicker(ticks=[0, 1, 2, 3])
er.xaxis.major_label_overrides = {0: er_cond[0], 1: er_cond[1], 2: er_cond[2], 3: er_cond[3]}
er.yaxis.ticker = FixedTicker(ticks=[0, 200, 400, 600, 800])
style_axes(er, size=8, tick_out=3, standoff=2)
er.xaxis.major_label_text_font_size = "10px"
er.xaxis.major_label_orientation = 0.45
lab(er, "basal", 591, 673, size=8, bold=True, align="center")
lab(er, "OCR", 591, 684, size=8, bold=True, align="center")
lab(er, "maximal", 643, 673, size=8, bold=True, align="center")
lab(er, "OCR", 643, 684, size=8, bold=True, align="center")
lab(er, "HCC1806", 665, 691, size=11, bold=True, color=HRED)
lab(er, "HCC1937", 665, 705, size=11, bold=True, color=HCC37)
lab(er, "OCR (pmol/min/cell)", 539, 730, size=9, bold=True, align="center", angle=math.pi / 2)

# ============================ F: profiles + violins ============================
f1 = mkfig((0, 838, 155, 991), (41, 854, 144, 952), (-0.6, 0.6), (0, 15))
f2 = mkfig((155, 838, 280, 991), (167, 854, 272, 952), (-0.6, 0.6), (0, 15))
for p, xs, c1, c2, col2 in [(f1, f1_x, f1_ctrl, f1_sh, HRED), (f2, f2_x, f2_ctrl, f2_sh, "#FFA500")]:
    p.line(xs, c1, line_color="#8C8C8C", line_width=1.2)
    p.line(xs, c2, line_color=col2, line_width=1.2)
    p.add_layout(BoxAnnotation(left=-0.6, right=0.6, bottom=0, top=15, fill_alpha=0,
                               line_color="#333333", line_width=1))
    p.yaxis.ticker = FixedTicker(ticks=[0, 2, 4, 6, 8, 10, 12, 14])
    p.xaxis.ticker = FixedTicker(ticks=[-0.6, 0, 0.6])
    p.xaxis.major_label_overrides = {-0.6: "-0.6", 0: "TSS", 0.6: "0.6 kb"}
    style_axes(p, size=9, tick_out=2, standoff=1, line_color="#333333")
lab(f1, "OXPHOS-genes (n=27)", 93, 847, size=10.5, bold=True, align="center")
lab(f1, "shControl", 44, 861, size=11, bold=True, color="#9A9A9A")
lab(f1, "shUSP22", 44, 873, size=11, bold=True, color=HRED)
lab(f1, "Reads (RPGC)", 22, 902, size=10, bold=True, align="center", angle=math.pi / 2)
lab(f2, "negative control (n=29)", 219, 847, size=10.5, bold=True, align="center")
lab(f2, "shControl", 171, 861, size=11, bold=True, color="#9A9A9A")
lab(f2, "shUSP22", 171, 873, size=11, bold=True, color="#FFA500")

# violin panel: categories at x=0 (OXPHOS-genes) and x=1 (negative control)
f3 = mkfig((280, 838, 410, 991), (331, 847, 398, 952), (-0.66, 1.66), (-1.5, 1.15))
f3.segment(x0=[-0.66], y0=[0], x1=[1.66], y1=[0], line_color="black", line_width=1, line_dash="1 3")
for cx, vy, vw, q, col in [(0, ox_vy, ox_vw, ox_q, "#FF1A1A"), (1, nc_vy, nc_vw, nc_q, "#FFA032")]:
    px_ = [cx + w for w in vw] + [cx - w for w in vw[::-1]]
    py_ = list(vy) + list(vy[::-1])
    f3.patch(px_, py_, fill_color=col, line_color="#222222", line_width=1)
    wq = np.interp(q, vy[::-1], vw[::-1])
    f3.segment(x0=[cx - w for w in wq], y0=q, x1=[cx + w for w in wq], y1=q,
               line_color="#333333", line_width=0.8, line_dash="2 1")
f3.line([0, 1], [1.08, 1.08], line_color="black", line_width=1)
labd(f3, "**", 0.5, 1.2, size=9, bold=True)
f3.yaxis.ticker = FixedTicker(ticks=[-1.5, -1.0, -0.5, 0.0, 0.5, 1.0])
f3.yaxis.formatter = NumeralTickFormatter(format="0.0")
f3.yaxis.bounds = (-1.5, 1.0)
f3.xaxis.ticker = FixedTicker(ticks=[0, 1])
style_axes(f3, size=8, tick_out=3, standoff=2)
f3.xaxis.axis_line_color = "#A0A0A0"
f3.xaxis.axis_line_width = 1.5
f3.xaxis.major_tick_line_color = "#A0A0A0"
f3.xaxis.major_label_text_color = None
lab(f3, "OXPHOS-", 345, 959, size=8, bold=True, align="right", angle=math.pi / 4)
lab(f3, "genes", 351, 967, size=8, bold=True, align="right", angle=math.pi / 4)
lab(f3, "negative", 382, 958, size=8, bold=True, align="right", angle=math.pi / 4)
lab(f3, "control", 388, 967, size=8, bold=True, align="right", angle=math.pi / 4)
lab(f3, "log\u2082FC of RNApol2", 296, 898, size=9, bold=True, align="center", angle=math.pi / 2)
lab(f3, "occupancy", 307, 898, size=9, bold=True, align="center", angle=math.pi / 2)

# ============================ LAYOUT ============================
layout = column(
    row(*km_figs),
    hb,
    row(*sc_figs),
    row(rc, column(gh, row(*gsea_figs))),
    row(d, el, er),
    row(f1, f2, f3),
)
open("out.html", "w").write(file_html(layout, INLINE, "figure"))
